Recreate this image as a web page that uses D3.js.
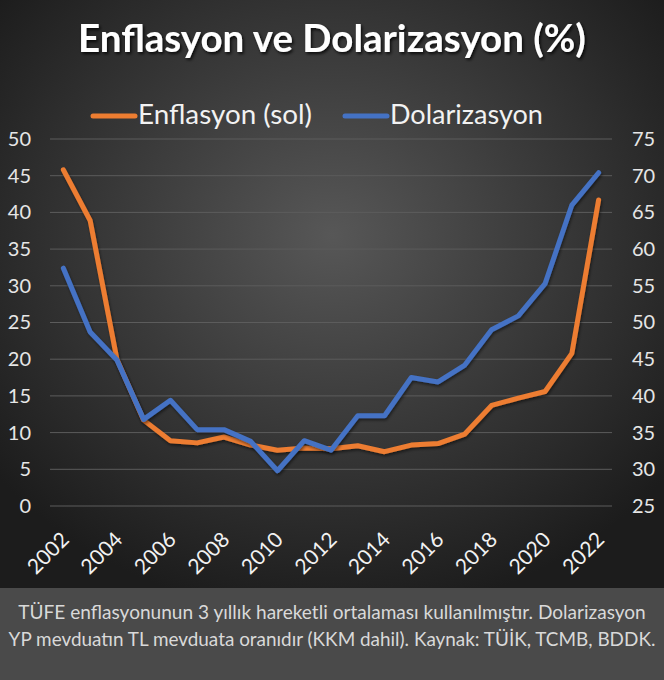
<!DOCTYPE html>
<html>
<head>
<meta charset="utf-8">
<script src="https://cdn.jsdelivr.net/npm/d3@7"></script>
<style>
  html, body { margin: 0; padding: 0; background: #2a2a2a; }
  svg { display: block; font-family: Lato, "Open Sans", sans-serif; }
</style>
</head>
<body>
<div id="chart"></div>
<script>
const years = [2002, 2003, 2004, 2005, 2006, 2007, 2008, 2009, 2010, 2011, 2012,
               2013, 2014, 2015, 2016, 2017, 2018, 2019, 2020, 2021, 2022]
const enflasyon = [45.8, 38.9, 20.0, 11.7, 8.9, 8.6, 9.4, 8.3, 7.6, 7.9, 7.8,
                   8.2, 7.4, 8.3, 8.5, 9.8, 13.7, 14.7, 15.6, 20.8, 41.7]
const dolarizasyon = [57.4, 48.7, 44.9, 36.8, 39.4, 35.4, 35.4, 33.8, 29.8, 33.9, 32.6,
                      37.3, 37.3, 42.5, 41.9, 44.2, 49.0, 50.9, 55.3, 66.0, 70.4]
const leftTicks = [0, 5, 10, 15, 20, 25, 30, 35, 40, 45, 50]
const rightTicks = [25, 30, 35, 40, 45, 50, 55, 60, 65, 70, 75]
const yearLabels = [2002, 2004, 2006, 2008, 2010, 2012, 2014, 2016, 2018, 2020, 2022]
const seriesNames = ["Enflasyon (sol)", "Dolarizasyon"]
const title = "Enflasyon ve Dolarizasyon (%)"
const footer = [
    "TÜFE enflasyonunun 3 yıllık hareketli ortalaması kullanılmıştır. Dolarizasyon",
    "YP mevduatın TL mevduata oranıdır (KKM dahil). Kaynak: TÜİK, TCMB, BDDK."
]

const W = 664, H = 680
const orange = "#ED7D31", blue = "#4472C4"
let plot = {left: 50, right: 612, top: 139, bottom: 506}

const svg = d3.select("#chart").append("svg").attr("width", W).attr("height", H)
const defs = svg.append("defs")

// background gradient, lighter in the middle
const grad = defs.append("radialGradient").attr("id", "bg")
    .attr("cx", "50%").attr("cy", "40%").attr("r", "65%")
grad.append("stop").attr("offset", "0%").attr("stop-color", "#575757")
grad.append("stop").attr("offset", "100%").attr("stop-color", "#1c1c1c")

const shadow = defs.append("filter").attr("id", "shadow")
    .attr("x", "-10%").attr("y", "-20%").attr("width", "120%").attr("height", "150%")
shadow.append("feDropShadow").attr("dx", 1.5).attr("dy", 2).attr("stdDeviation", 1.5)
    .attr("flood-color", "#000").attr("flood-opacity", 0.8)

const lineShadow = defs.append("filter").attr("id", "lineShadow")
    .attr("x", "-10%").attr("y", "-10%").attr("width", "120%").attr("height", "120%")
lineShadow.append("feDropShadow").attr("dx", 1).attr("dy", 2).attr("stdDeviation", 1.5)
    .attr("flood-color", "#000").attr("flood-opacity", 0.5)

svg.append("rect").attr("width", W).attr("height", 588).attr("fill", "url(#bg)")
svg.append("rect").attr("y", 588).attr("width", W).attr("height", H - 588).attr("fill", "#4a4a4a")

// shrink/grow font so text fills the wanted width
function fitText(sel, width) {
    let size = parseFloat(sel.attr("font-size"))
    let len = sel.node().getComputedTextLength()
    sel.attr("font-size", size * width / len)
}

// title
let t = svg.append("text").attr("x", W / 2).attr("y", 52)
    .attr("text-anchor", "middle").attr("font-size", 32).attr("font-weight", "bold")
    .attr("fill", "#fff").attr("filter", "url(#shadow)").text(title)
fitText(t, 508)

// scales
const x = d3.scalePoint().domain(years).range([plot.left, plot.right]).padding(0.5)
const yL = d3.scaleLinear().domain([0, 50]).range([plot.bottom, plot.top])
const yR = d3.scaleLinear().domain([25, 75]).range([plot.bottom, plot.top])

// gridlines
svg.append("g").selectAll("line").data(leftTicks).enter().append("line")
    .attr("x1", plot.left).attr("x2", plot.right)
    .attr("y1", d => yL(d)).attr("y2", d => yL(d))
    .attr("stroke", "#5c5c5c").attr("stroke-width", 1)

// axes
let axL = svg.append("g").attr("transform", `translate(${plot.left},0)`)
    .call(d3.axisLeft(yL).tickValues(leftTicks).tickSize(0).tickPadding(19))
let axR = svg.append("g").attr("transform", `translate(${plot.right},0)`)
    .call(d3.axisRight(yR).tickValues(rightTicks).tickSize(0).tickPadding(20))
for (let ax of [axL, axR]) {
    ax.select(".domain").remove()
    ax.selectAll("text").attr("font-family", "Lato, 'Open Sans', sans-serif")
        .attr("font-size", 20).attr("fill", "#e6e6e6")
}

// rotated year labels
svg.append("g").selectAll("text").data(yearLabels).enter().append("text")
    .attr("transform", d => `translate(${x(d) + 7},${plot.bottom + 35}) rotate(-45)`)
    .attr("text-anchor", "end").attr("font-size", 21).attr("fill", "#f2f2f2")
    .text(d => d)

// lines
const lineL = d3.line().x((d, i) => x(years[i])).y(d => yL(d))
const lineR = d3.line().x((d, i) => x(years[i])).y(d => yR(d))
svg.append("path").datum(enflasyon).attr("d", lineL)
    .attr("fill", "none").attr("stroke", orange).attr("stroke-width", 5)
    .attr("stroke-linejoin", "round").attr("stroke-linecap", "round")
    .attr("filter", "url(#lineShadow)")
svg.append("path").datum(dolarizasyon).attr("d", lineR)
    .attr("fill", "none").attr("stroke", blue).attr("stroke-width", 5)
    .attr("stroke-linejoin", "round").attr("stroke-linecap", "round")
    .attr("filter", "url(#lineShadow)")

// legend
const legendX = [93, 345]
const legendW = [174, 153]
const legendColors = [orange, blue]
seriesNames.forEach((name, i) => {
    svg.append("line").attr("x1", legendX[i]).attr("x2", legendX[i] + 42)
        .attr("y1", 116).attr("y2", 116)
        .attr("stroke", legendColors[i]).attr("stroke-width", 5).attr("stroke-linecap", "round")
    let lt = svg.append("text").attr("x", legendX[i] + 45).attr("y", 124)
        .attr("font-size", 23).attr("fill", "#f2f2f2").text(name)
    fitText(lt, legendW[i])
})

// footer note
footer.forEach((line, i) => {
    let ft = svg.append("text").attr("x", W / 2).attr("y", 619 + i * 27)
        .attr("text-anchor", "middle").attr("font-size", 17).attr("fill", "#d9d9d9")
        .text(line)
    fitText(ft, i == 0 ? 628 : 647)
})
</script>
</body>
</html>
